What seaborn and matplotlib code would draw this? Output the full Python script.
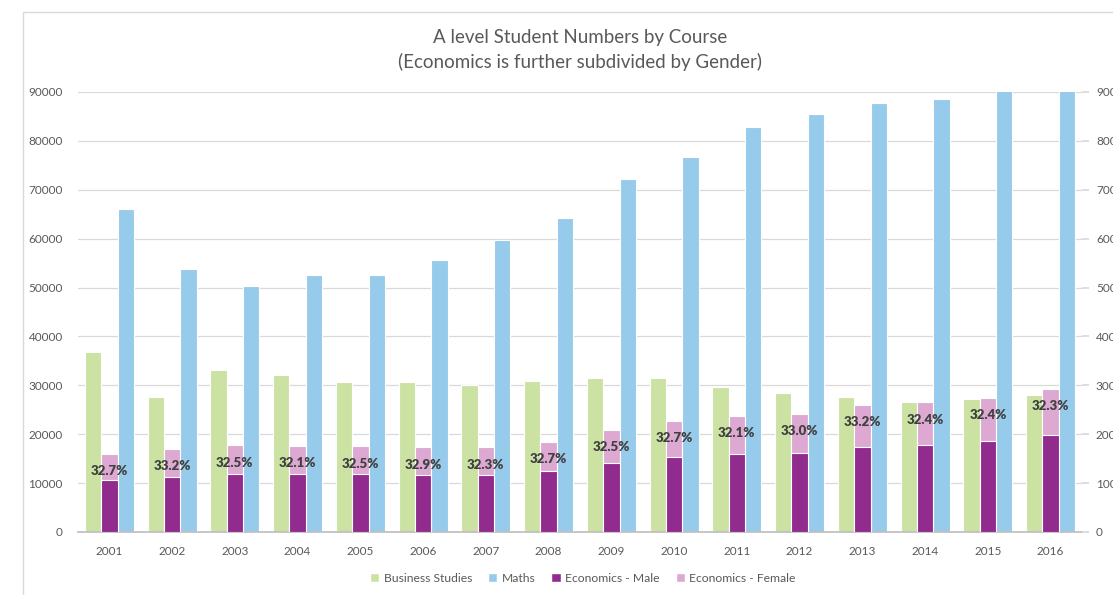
import matplotlib
matplotlib.use("Agg")
import matplotlib.pyplot as plt
import seaborn as sns
import pandas as pd
import numpy as np
from matplotlib.patches import Patch, Rectangle

years = [str(y) for y in range(2001, 2017)]
business = [36800, 27600, 33100, 32100, 30700, 30700, 30100, 30900,
            31500, 31500, 29700, 28500, 27600, 26600, 27200, 28000]
maths = [66100, 53700, 50300, 52600, 52600, 55700, 59800, 64300,
         72200, 76800, 82800, 85500, 87800, 88600, 92500, 94000]
econ_male = [10700, 11300, 11900, 11900, 11800, 11600, 11700, 12400,
             14100, 15300, 16000, 16200, 17400, 17800, 18600, 19800]
econ_female = [5300, 5600, 5800, 5700, 5700, 5700, 5600, 6100,
               6800, 7400, 7700, 8000, 8500, 8700, 8900, 9400]
pct_labels = ["32.7%", "33.2%", "32.5%", "32.1%", "32.5%", "32.9%", "32.3%", "32.7%",
              "32.5%", "32.7%", "32.1%", "33.0%", "33.2%", "32.4%", "32.4%", "32.3%"]

GREEN = "#CCE2A2"
BLUE = "#97CBEB"
PURPLE = "#912B8E"
PINK = "#DDA9D2"
TXT = "#595959"
GRID = "#D9D9D9"

sns.set_theme(style="white")
plt.rcParams['font.family'] = ['Lato', 'DejaVu Sans']

econ_total = [m + f for m, f in zip(econ_male, econ_female)]
hue_order = ["Business Studies", "Economics", "Maths"]
df = pd.DataFrame({
    "year": years * 3,
    "course": ["Business Studies"] * 16 + ["Economics"] * 16 + ["Maths"] * 16,
    "value": business + econ_total + maths,
})
df_m = pd.DataFrame({
    "year": years * 3,
    "course": ["Business Studies"] * 16 + ["Economics"] * 16 + ["Maths"] * 16,
    "value": [np.nan] * 16 + econ_male + [np.nan] * 16,
})

fig = plt.figure(figsize=(11.13, 5.95), dpi=100)
ax = fig.add_axes([78 / 1113, 1 - 532 / 595, (1082 - 78) / 1113, (532 - 92) / 595])

sns.barplot(data=df, x="year", y="value", hue="course", hue_order=hue_order,
            palette={"Business Studies": GREEN, "Economics": PINK, "Maths": BLUE},
            saturation=1, width=0.78, edgecolor="white", linewidth=0.8, ax=ax,
            legend=False, errorbar=None, zorder=2)
sns.barplot(data=df_m, x="year", y="value", hue="course", hue_order=hue_order,
            palette={"Business Studies": GREEN, "Economics": PURPLE, "Maths": BLUE},
            saturation=1, width=0.78, edgecolor="white", linewidth=0.8, ax=ax,
            legend=False, errorbar=None, zorder=3)

# percent labels on economics stacks
for i, (tot, lab) in enumerate(zip(econ_total, pct_labels)):
    ax.text(i, tot - 3500, lab, ha="center", va="center", fontsize=9.5,
            fontweight="heavy", color="#404040", zorder=5)

ax.set_ylim(0, 90000)
ax.set_xlim(-0.5, 15.5)
ax.set_yticks(range(0, 90001, 10000))
ax.set_yticklabels([str(v) for v in range(0, 90001, 10000)])
ax.yaxis.grid(True, color=GRID, linewidth=0.9, zorder=0)
ax.set_axisbelow(True)
ax.set_xlabel("")
ax.set_ylabel("")
for s in ["top", "right", "left"]:
    ax.spines[s].set_visible(False)
ax.spines["bottom"].set_color("#BFBFBF")
ax.tick_params(axis="y", length=0, labelsize=8.5, labelcolor=TXT, pad=11)
ax.tick_params(axis="x", length=0, labelsize=8.5, labelcolor=TXT, pad=10)

ax2 = ax.twinx()
ax2.set_ylim(0, 90000)
ax2.set_yticks(range(0, 90001, 10000))
ax2.set_yticklabels([str(v) for v in range(0, 90001, 10000)])
for s in ["top", "right", "left", "bottom"]:
    ax2.spines[s].set_visible(False)
ax2.tick_params(axis="y", length=5, color=GRID, labelsize=8.5, labelcolor=TXT, pad=5)

fig.text(0.521, 1 - 37 / 595, "A level Student Numbers by Course", ha="center",
         va="center", fontsize=13.5, color=TXT)
fig.text(0.521, 1 - 62 / 595, "(Economics is further subdivided by Gender)", ha="center",
         va="center", fontsize=13.5, color=TXT)

handles = [Patch(facecolor=GREEN), Patch(facecolor=BLUE),
           Patch(facecolor=PURPLE), Patch(facecolor=PINK)]
labels = ["Business Studies", "Maths", "Economics - Male", "Economics - Female"]
fig.legend(handles, labels, loc="center", bbox_to_anchor=(583 / 1113, 1 - 578 / 595),
           ncol=4, frameon=False, fontsize=8.7, handlelength=0.75, handleheight=0.75,
           handletextpad=0.4, columnspacing=1.3, labelcolor=TXT)

fig.patches.append(Rectangle((23 / 1113, -0.1), 1.2, 1.1 - 12 / 595,
                             transform=fig.transFigure, fill=False,
                             edgecolor=GRID, linewidth=1.0))

fig.savefig("out.png", dpi=100)
